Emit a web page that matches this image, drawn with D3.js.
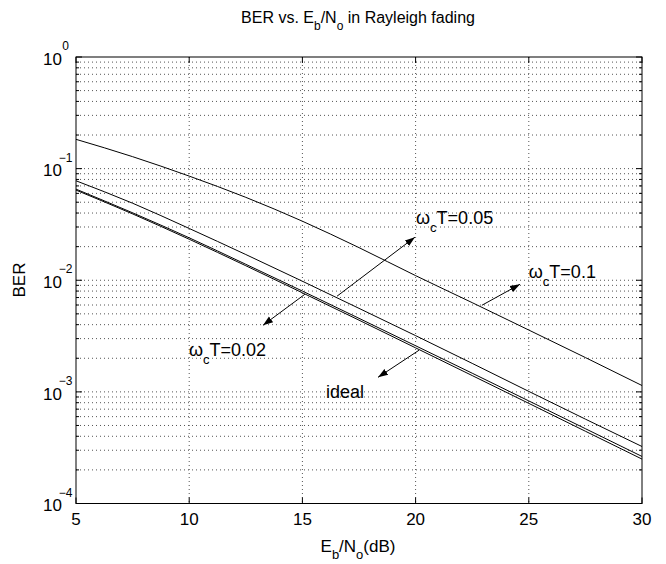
<!DOCTYPE html>
<html lang="en">
    <head>
        <meta charset="utf-8">
        <title>BER vs Eb/No</title>
        <script type="text/javascript" src="https://cdn.jsdelivr.net/npm/d3@7"></script>
        <style>
            body { margin: 0; background: #fff; }
            text { font-family: "Liberation Sans", Arial, sans-serif; fill: #000; }
        </style>
    </head>
    <body>
        <script type="text/javascript">

            //Data
            var snrDb = [5, 7.5, 10, 12.5, 15, 17.5, 20, 22.5, 25, 27.5, 30];
            var berIdeal = [0.0642, 0.0393, 0.0233, 0.01349, 0.00772, 0.00439, 0.00248, 0.0014, 0.000789, 0.000444, 0.00025];
            var ber002 = [0.0655, 0.0402, 0.0240, 0.0139, 0.0080, 0.00456, 0.00259, 0.00147, 0.00083, 0.000468, 0.000264];
            var ber005 = [0.0778, 0.049, 0.0291, 0.0170, 0.0098, 0.0056, 0.00319, 0.0018, 0.00101, 0.00057, 0.000324];
            var ber01 = [0.183, 0.128, 0.0857, 0.0553, 0.0338, 0.0196, 0.0110, 0.0063, 0.00358, 0.00203, 0.00114];
            var xTicks = [5, 10, 15, 20, 25, 30];
            var yDecades = [0, -1, -2, -3, -4];

            //Size
            var w = 666;
            var h = 564;
            var pL = 76, pR = 642, pT = 57, pB = 503.5;

            var xScale = d3.scaleLinear().domain([5, 30]).range([pL, pR]);
            var yScale = d3.scaleLog().domain([1e-4, 1]).range([pB, pT]);

            var svg = d3.select("body")
                    .append("svg")
                    .attr("width", w)
                    .attr("height", h);

            //minor values of the log axis
            var minors = [];
            yDecades.forEach(function (e) {
                if (e === 0) return;
                for (var k = 1; k <= 9; k++) {
                    minors.push(k * Math.pow(10, e));
                }
            });

            //Grid, dotted
            svg.append("g")
                    .selectAll("line")
                    .data(minors.filter(function (v) { return v > 1.5e-4; }))
                    .enter()
                    .append("line")
                    .attr("x1", pL).attr("x2", pR)
                    .attr("y1", function (d) { return yScale(d); })
                    .attr("y2", function (d) { return yScale(d); })
                    .attr("stroke", "#555")
                    .attr("stroke-dasharray", "1,3");

            svg.append("g")
                    .selectAll("line")
                    .data(xTicks.slice(1, -1))
                    .enter()
                    .append("line")
                    .attr("y1", pT).attr("y2", pB)
                    .attr("x1", function (d) { return xScale(d); })
                    .attr("x2", function (d) { return xScale(d); })
                    .attr("stroke", "#555")
                    .attr("stroke-dasharray", "1,3");

            //Ticks, inside the box
            var tk = svg.append("g").attr("stroke", "#000");
            minors.concat([1]).forEach(function (v) {
                var major = Math.abs(Math.log10(v) - Math.round(Math.log10(v))) < 1e-9;
                var len = major ? 6 : 3;
                var y = yScale(v);
                tk.append("line").attr("x1", pL).attr("x2", pL + len).attr("y1", y).attr("y2", y);
                tk.append("line").attr("x1", pR).attr("x2", pR - len).attr("y1", y).attr("y2", y);
            });
            xTicks.forEach(function (v) {
                var x = xScale(v);
                tk.append("line").attr("x1", x).attr("x2", x).attr("y1", pB).attr("y2", pB - 6);
                tk.append("line").attr("x1", x).attr("x2", x).attr("y1", pT).attr("y2", pT + 6);
            });

            //Box
            svg.append("rect")
                    .attr("x", pL).attr("y", pT)
                    .attr("width", pR - pL).attr("height", pB - pT)
                    .attr("fill", "none")
                    .attr("stroke", "#000");

            //Tick labels
            svg.append("g")
                    .selectAll("text")
                    .data(xTicks)
                    .enter()
                    .append("text")
                    .attr("x", function (d) { return xScale(d); })
                    .attr("y", pB + 21)
                    .attr("text-anchor", "middle")
                    .attr("font-size", "17px")
                    .text(function (d) { return d; });

            var yl = svg.append("g");
            yDecades.forEach(function (e) {
                var y = yScale(Math.pow(10, e));
                yl.append("text")
                        .attr("x", 62).attr("y", y + 7.8)
                        .attr("text-anchor", "end")
                        .attr("font-size", "17px")
                        .text("10");
                yl.append("text")
                        .attr("x", 65.5).attr("y", y - 7)
                        .attr("text-anchor", "middle")
                        .attr("font-size", "12px")
                        .text(e === 0 ? "0" : "\u2212" + (-e));
            });

            //Curves
            var line = d3.line()
                    .x(function (d) { return xScale(d[0]); })
                    .y(function (d) { return yScale(d[1]); })
                    .curve(d3.curveMonotoneX);

            [berIdeal, ber002, ber005, ber01].forEach(function (s) {
                svg.append("path")
                        .datum(snrDb.map(function (x, i) { return [x, s[i]]; }))
                        .attr("d", line)
                        .attr("fill", "none")
                        .attr("stroke", "#000")
                        .attr("stroke-width", 1);
            });

            //Arrows
            svg.append("defs").append("marker")
                    .attr("id", "head")
                    .attr("viewBox", "0 0 10 10")
                    .attr("refX", 10).attr("refY", 5)
                    .attr("markerWidth", 10).attr("markerHeight", 10)
                    .attr("markerUnits", "userSpaceOnUse")
                    .attr("orient", "auto")
                    .append("path")
                    .attr("d", "M0,1.5 L10,5 L0,8.5 Z")
                    .attr("fill", "#000");

            // [fromDb, fromBer, toDb, toBer]
            var arrows = [
                [16.53, 0.0072, 19.97, 0.0243],
                [22.93, 0.00597, 24.61, 0.0092],
                [15.11, 0.00749, 13.26, 0.00395],
                [20.15, 0.00236, 18.34, 0.00135]
            ];
            svg.append("g")
                    .selectAll("line")
                    .data(arrows)
                    .enter()
                    .append("line")
                    .attr("x1", function (d) { return xScale(d[0]); })
                    .attr("y1", function (d) { return yScale(d[1]); })
                    .attr("x2", function (d) { return xScale(d[2]); })
                    .attr("y2", function (d) { return yScale(d[3]); })
                    .attr("stroke", "#000")
                    .attr("marker-end", "url(#head)");

            //Labels: [dB, BER, value]
            var notes = [
                [20.02, 0.0318, "0.05"],
                [25.0, 0.0104, "0.1"],
                [9.99, 0.00208, "0.02"]
            ];
            notes.forEach(function (n) {
                var t = svg.append("text")
                        .attr("x", xScale(n[0]))
                        .attr("y", yScale(n[1]))
                        .attr("font-size", "18px");
                t.append("tspan").text("\u03c9");
                t.append("tspan").attr("dy", 8).attr("font-size", "13px").text("c");
                t.append("tspan").attr("dy", -8).text("T=" + n[2]);
            });
            svg.append("text")
                    .attr("x", xScale(16.04))
                    .attr("y", yScale(0.000875))
                    .attr("font-size", "18px")
                    .text("ideal");

            //Title
            var title = svg.append("text")
                    .attr("x", 358).attr("y", 23)
                    .attr("text-anchor", "middle")
                    .attr("font-size", "16px");
            title.append("tspan").text("BER vs. E");
            title.append("tspan").attr("dy", 7).attr("font-size", "12px").text("b");
            title.append("tspan").attr("dy", -7).text("/N");
            title.append("tspan").attr("dy", 7).attr("font-size", "12px").text("o");
            title.append("tspan").attr("dy", -7).text(" in Rayleigh fading");

            //Axis titles
            var xl = svg.append("text")
                    .attr("x", 358).attr("y", 552)
                    .attr("text-anchor", "middle")
                    .attr("font-size", "17px");
            xl.append("tspan").text("E");
            xl.append("tspan").attr("dy", 7).attr("font-size", "13px").text("b");
            xl.append("tspan").attr("dy", -7).text("/N");
            xl.append("tspan").attr("dy", 7).attr("font-size", "13px").text("o");
            xl.append("tspan").attr("dy", -7).text("(dB)");

            svg.append("text")
                    .attr("transform", "translate(25,280) rotate(-90)")
                    .attr("text-anchor", "middle")
                    .attr("font-size", "17px")
                    .text("BER");

        </script>
    </body>
</html>
